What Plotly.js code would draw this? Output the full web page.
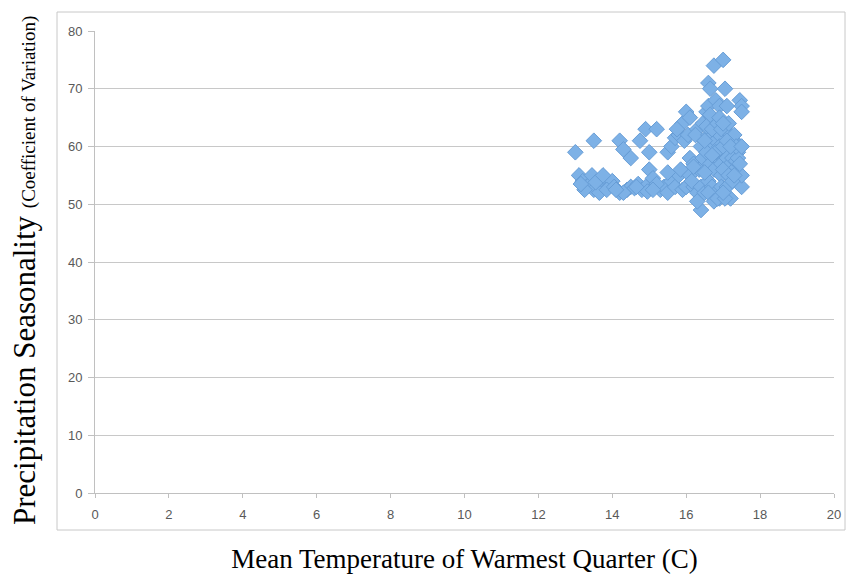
<!DOCTYPE html>
<html>
<head>
<meta charset="utf-8">
<script src="https://cdn.plot.ly/plotly-3.0.1.min.js"></script>
<style>html,body{margin:0;padding:0;background:#fff;}#chart{width:849px;height:580px;}</style>
</head>
<body>
<div id="chart"></div>
<script>
// Mean temperature of warmest quarter (C)
const tempX = [
  13.0,13.5,13.1,13.2,13.3,13.4,13.5,13.6,13.7,13.8,13.9,14.0,13.25,13.45,13.65,13.85,14.05,13.15,13.55,13.75,
  14.2,14.3,14.5,14.75,14.2,14.4,14.5,14.6,14.7,14.8,14.9,15.0,14.9,15.0,14.3,14.1,15.1,14.95,14.65,
  15.2,15.5,15.6,15.7,15.9,16.0,15.8,15.3,15.4,15.5,15.6,15.7,15.8,15.9,15.2,15.5,15.95,15.85,16.0,15.1,16.1,16.05,15.75,
  16.1,16.2,16.3,16.4,16.4,16.1,16.2,16.3,16.15,16.35,16.45,16.25,16.4,16.5,16.45,16.3,16.2,
  16.6,16.65,16.75,17.0,16.55,16.6,16.7,16.8,16.9,16.6,16.7,16.8,16.9,16.55,16.65,16.75,16.85,16.95,16.6,16.7,16.8,16.9,16.95,16.5,16.55,16.7,16.85,16.9,16.6,16.75,16.85,16.95,16.5,16.65,16.8,16.7,16.9,16.95,
  17.05,17.1,17.2,17.3,17.4,17.45,17.5,17.5,17.0,17.1,17.2,17.3,17.4,17.5,17.5,17.0,17.1,17.2,17.05,17.25,17.35,17.45,17.15,17.0,17.3,17.4,17.15,17.25,17.35,17.45,17.1,17.0,17.2,17.3,17.5
];
// Precipitation seasonality (coefficient of variation)
const seasonY = [
  59,61,55,54,53,53.5,52.5,54,53,54.5,53,54,52.5,55,52,52.5,53,53.5,53.8,55,
  61,59.5,58,61,52,52.5,53,52.8,53.5,52.5,53,59,63,56,52,52.5,54.5,52.2,53,
  63,59,60,61.5,64,66,62,52.5,53,52,54,53,55,52.5,53.5,55.5,61,56,53,52.5,65,62,63,
  58,57,63,60,49,55,53,52,54,56,64,62,53,52,58,50.5,56.5,
  71,70,74,75,66,67,65,68,67,62,60,61,62,59,57,56,58,55,54,53,52,51,53,55.5,63.5,63,64,60,52,50.5,51,57,61,65.5,59,58.5,65,63,
  70,67,62,61,59,68,67,66,60,58,57,56,55,53,55,56,53,51,51,58,57.5,60,64,64,62,58,55,54,60,57,61,52,60,55,60
];
const xTicks = [0,2,4,6,8,10,12,14,16,18,20];
const yTicks = [0,10,20,30,40,50,60,70,80];

const trace = {
  x: tempX, y: seasonY, type: 'scatter', mode: 'markers',
  marker: {symbol: 'diamond', size: 12, color: '#7db1e6', line: {color: '#679dd6', width: 1}},
  hoverinfo: 'x+y'
};

const tickFont = {family: 'Liberation Sans, Arial, sans-serif', size: 13, color: '#595959'};

const layout = {
  width: 849, height: 580,
  margin: {l: 95, r: 15, t: 31, b: 87},
  paper_bgcolor: '#ffffff', plot_bgcolor: '#ffffff',
  showlegend: false,
  xaxis: {
    range: [0, 20], tickvals: xTicks, ticktext: xTicks.map(String),
    showgrid: false, zeroline: false,
    showline: true, linecolor: '#c0c0c0', linewidth: 1,
    ticks: 'outside', ticklen: 4, tickcolor: '#c0c0c0',
    tickfont: tickFont, ticklabelstandoff: 5,
    title: {text: 'Mean Temperature of Warmest Quarter (C)', font: {family: 'Liberation Serif, Times New Roman, serif', size: 27, color: '#000'}, standoff: 28}
  },
  yaxis: {
    range: [0, 80], tickvals: yTicks, ticktext: yTicks.map(String),
    showgrid: true, gridcolor: '#c8c8c8', gridwidth: 1, zeroline: false,
    showline: true, linecolor: '#c0c0c0', linewidth: 1,
    ticks: 'outside', ticklen: 6, tickcolor: '#c0c0c0',
    tickfont: tickFont, ticklabelstandoff: 3
  },
  shapes: [{
    type: 'rect', xref: 'paper', yref: 'paper',
    x0: (57 - 95) / 739, x1: (845 - 95) / 739,
    y0: (493 - 530) / 462, y1: (493 - 12) / 462,
    line: {color: '#c8c8c8', width: 1}, fillcolor: 'rgba(0,0,0,0)', layer: 'below'
  }],
  annotations: [{
    xref: 'paper', yref: 'paper',
    x: (24 - 95) / 739, y: (493 - 271) / 462,
    xanchor: 'center', yanchor: 'middle', textangle: -90, showarrow: false,
    text: 'Precipitation Seasonality <span style="font-size:19px">(Coefficient of Variation)</span>',
    font: {family: 'Liberation Serif, Times New Roman, serif', size: 31, color: '#000'}
  }]
};

Plotly.newPlot('chart', [trace], layout, {displayModeBar: false, staticPlot: true});
</script>
</body>
</html>
